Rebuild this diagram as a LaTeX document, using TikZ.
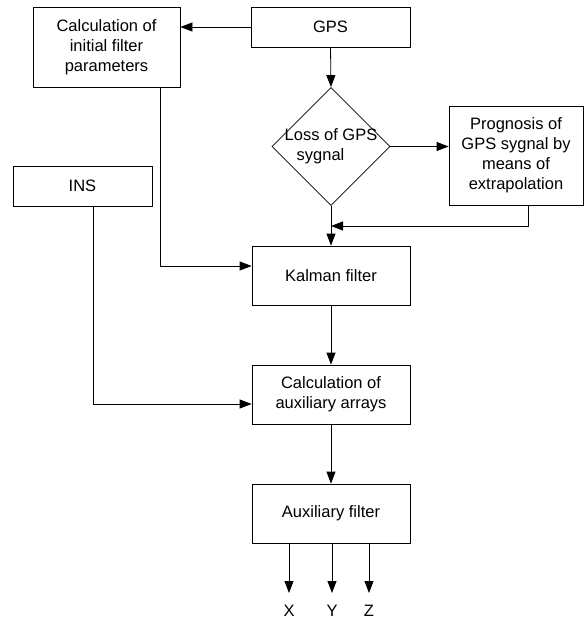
\documentclass[tikz,border=0pt]{standalone}
\usepackage{fontspec}
\setmainfont{Liberation Sans}
\usepackage{tikz}
\usetikzlibrary{positioning, arrows.meta, shapes.geometric}

\begin{document}
\begin{tikzpicture}[x=1pt, y=-1pt, >={Triangle[length=12pt,width=9pt]},
    every node/.style={font=\fontsize{16.5}{20}\selectfont, align=center},
    block/.style={draw, line width=0.8pt, inner sep=0pt},
    decision/.style={draw, diamond, aspect=1, line width=0.8pt, inner sep=-2.5pt},
    every path/.style={line width=0.8pt}]
    \useasboundingbox (0,0) rectangle (585,621);
    %\node (name)[option]{content}
    \node (calcinit) [block, minimum width=147pt, minimum height=80pt] at (106.5,47) {Calculation of\\initial filter\\parameters};
    \node (gps) [block, minimum width=159pt, minimum height=40pt] at (330.5,27) {GPS};
    \node (loss) [decision, minimum width=118pt, minimum height=118pt, align=left] at (331,146.5) {Loss of GPS\\\hspace*{12pt}sygnal};
    \node (prog) [block, minimum width=134pt, minimum height=99pt] at (516,155.5) {Prognosis of\\GPS sygnal by\\means of\\extrapolation};
    \node (ins) [block, minimum width=139pt, minimum height=40pt] at (82.5,186) {INS};
    \node (kalman) [block, minimum width=158pt, minimum height=59pt] at (331,275.5) {Kalman filter};
    \node (calcaux) [block, minimum width=158pt, minimum height=59pt] at (331,394.5) {Calculation of\\auxiliary arrays};
    \node (auxfilt) [block, minimum width=158pt, minimum height=59pt] at (331,513.5) {Auxiliary filter};
    \node (outx) [anchor=north, inner xsep=0pt, inner ysep=12pt] at (289,593) {X};
    \node (outy) [anchor=north, inner xsep=0pt, inner ysep=12pt] at (332,593) {Y};
    \node (outz) [anchor=north, inner xsep=0pt, inner ysep=12pt] at (369,593) {Z};
    \coordinate (join) at (331,226);

    \draw[->] (gps.west) -- (gps.west -| calcinit.east);
    \draw[->] (gps.south) -- (loss.north);
    \draw[->] (loss.east) -- (loss.east -| prog.west);
    \draw[->] (loss.south) -- (kalman.north);
    %extrapolation back
    \draw[->] ([xshift=12pt]prog.south) |- (join);
    %initial parameters and INS
    \draw[->] ([xshift=53.5pt]calcinit.south) |- ([yshift=9.5pt]kalman.west);
    \draw[->] ([xshift=10.5pt]ins.south) |- ([yshift=-9.5pt]calcaux.west);
    \draw[->] (kalman.south) -- (calcaux.north);
    \draw[->] (calcaux.south) -- (auxfilt.north);
    %outputs
    \draw[->] (auxfilt.south -| outx.north) -- (outx.north);
    \draw[->] (auxfilt.south -| outy.north) -- (outy.north);
    \draw[->] (auxfilt.south -| outz.north) -- (outz.north);
\end{tikzpicture}
\end{document}
